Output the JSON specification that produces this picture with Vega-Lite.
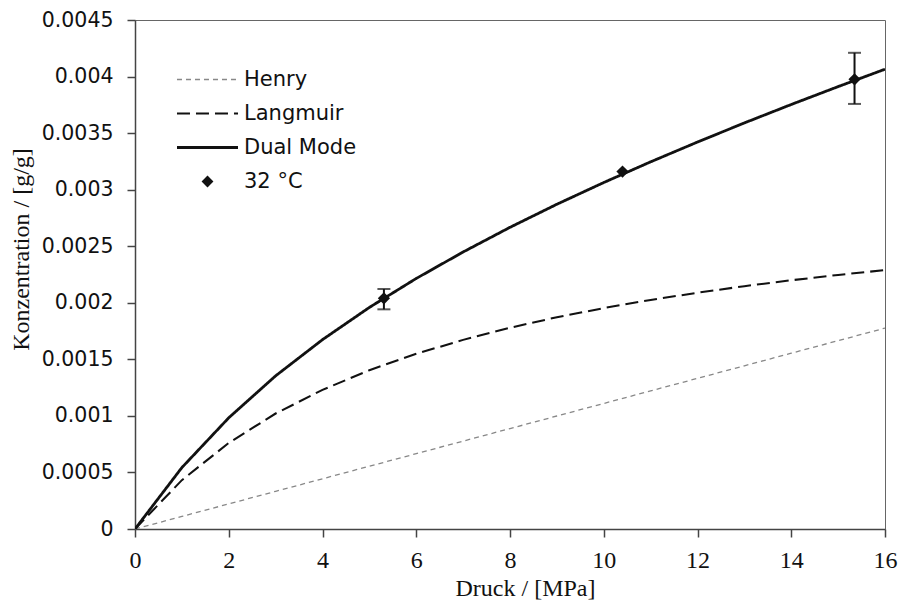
{
  "$schema": "https://vega.github.io/schema/vega-lite/v6.json",
  "width": 750,
  "height": 509,
  "autosize": {"type": "none"},
  "padding": {"left": 135, "top": 20, "right": 16, "bottom": 77},
  "background": "white",
  "config": {"view": {"stroke": "#666", "strokeWidth": 1}, "axis": {"grid": false}},
  "datasets": {
    "curves": [
      {"p": 0, "model": "Henry", "c": 0},
      {"p": 1, "model": "Henry", "c": 0.000111},
      {"p": 2, "model": "Henry", "c": 0.000222},
      {"p": 3, "model": "Henry", "c": 0.000333},
      {"p": 4, "model": "Henry", "c": 0.000444},
      {"p": 5, "model": "Henry", "c": 0.000555},
      {"p": 6, "model": "Henry", "c": 0.000666},
      {"p": 7, "model": "Henry", "c": 0.000777},
      {"p": 8, "model": "Henry", "c": 0.000888},
      {"p": 9, "model": "Henry", "c": 0.000999},
      {"p": 10, "model": "Henry", "c": 0.00111},
      {"p": 11, "model": "Henry", "c": 0.001221},
      {"p": 12, "model": "Henry", "c": 0.001332},
      {"p": 13, "model": "Henry", "c": 0.001443},
      {"p": 14, "model": "Henry", "c": 0.001554},
      {"p": 15, "model": "Henry", "c": 0.001665},
      {"p": 16, "model": "Henry", "c": 0.001776},
      {"p": 0, "model": "Langmuir", "c": 0},
      {"p": 1, "model": "Langmuir", "c": 0.000432},
      {"p": 2, "model": "Langmuir", "c": 0.000761},
      {"p": 3, "model": "Langmuir", "c": 0.001021},
      {"p": 4, "model": "Langmuir", "c": 0.00123},
      {"p": 5, "model": "Langmuir", "c": 0.001404},
      {"p": 6, "model": "Langmuir", "c": 0.001549},
      {"p": 7, "model": "Langmuir", "c": 0.001672},
      {"p": 8, "model": "Langmuir", "c": 0.001779},
      {"p": 9, "model": "Langmuir", "c": 0.001872},
      {"p": 10, "model": "Langmuir", "c": 0.001953},
      {"p": 11, "model": "Langmuir", "c": 0.002025},
      {"p": 12, "model": "Langmuir", "c": 0.002089},
      {"p": 13, "model": "Langmuir", "c": 0.002147},
      {"p": 14, "model": "Langmuir", "c": 0.002199},
      {"p": 15, "model": "Langmuir", "c": 0.002246},
      {"p": 16, "model": "Langmuir", "c": 0.002289},
      {"p": 0, "model": "Dual Mode", "c": 0},
      {"p": 1, "model": "Dual Mode", "c": 0.000543},
      {"p": 2, "model": "Dual Mode", "c": 0.000983},
      {"p": 3, "model": "Dual Mode", "c": 0.001354},
      {"p": 4, "model": "Dual Mode", "c": 0.001674},
      {"p": 5, "model": "Dual Mode", "c": 0.001959},
      {"p": 6, "model": "Dual Mode", "c": 0.002215},
      {"p": 7, "model": "Dual Mode", "c": 0.002449},
      {"p": 8, "model": "Dual Mode", "c": 0.002667},
      {"p": 9, "model": "Dual Mode", "c": 0.002871},
      {"p": 10, "model": "Dual Mode", "c": 0.003063},
      {"p": 11, "model": "Dual Mode", "c": 0.003246},
      {"p": 12, "model": "Dual Mode", "c": 0.003421},
      {"p": 13, "model": "Dual Mode", "c": 0.00359},
      {"p": 14, "model": "Dual Mode", "c": 0.003753},
      {"p": 15, "model": "Dual Mode", "c": 0.003911},
      {"p": 16, "model": "Dual Mode", "c": 0.004065}
    ],
    "points": [
      {"p": 5.31, "c": 0.00204, "series": "32 °C"},
      {"p": 10.4, "c": 0.00316, "series": "32 °C"},
      {"p": 15.35, "c": 0.003976, "series": "32 °C"}
    ],
    "errors": [
      {"p": 5.31, "lo": 0.001942, "hi": 0.002122},
      {"p": 15.35, "lo": 0.003758, "hi": 0.00421}
    ]
  },
  "layer": [
    {
      "data": {"name": "curves"},
      "mark": {"type": "line", "clip": true},
      "encoding": {
        "x": {
          "field": "p", "type": "quantitative",
          "scale": {"domain": [0, 16], "nice": false},
          "axis": {
            "values": [0, 2, 4, 6, 8, 10, 12, 14, 16],
            "title": "Druck / [MPa]",
            "titleFont": "Liberation Serif", "titleFontSize": 24, "titleFontWeight": "normal", "titleColor": "#111",
            "titleX": 390, "titleY": 66, "titleBaseline": "alphabetic", "titleAlign": "center",
            "labelFont": "Liberation Serif", "labelFontSize": 24, "labelColor": "#111", "labelPadding": 11,
            "labelFlush": false, "labelOverlap": false,
            "tickSize": 8, "tickColor": "#444", "tickWidth": 1.5,
            "domainColor": "#444", "domainWidth": 1.5
          }
        },
        "y": {
          "field": "c", "type": "quantitative",
          "scale": {"domain": [0, 0.0045], "nice": false},
          "axis": {
            "values": [0, 0.0005, 0.001, 0.0015, 0.002, 0.0025, 0.003, 0.0035, 0.004, 0.0045],
            "format": "~g",
            "title": "Konzentration / [g/g]",
            "titleFont": "Liberation Serif", "titleFontSize": 24, "titleFontWeight": "normal", "titleColor": "#111",
            "titleX": -107, "titleY": 229, "titleAngle": 270, "titleBaseline": "alphabetic", "titleAlign": "center",
            "labelFont": "DejaVu Sans", "labelFontSize": 20.5, "labelColor": "#111", "labelPadding": 14,
            "labelFlush": false, "labelOverlap": false,
            "tickSize": 8, "tickColor": "#444", "tickWidth": 1.5,
            "domainColor": "#444", "domainWidth": 1.5
          }
        },
        "color": {
          "field": "model", "type": "nominal",
          "scale": {"domain": ["Henry", "Langmuir", "Dual Mode"], "range": ["#888888", "#111111", "#111111"]},
          "legend": {"title": null, "orient": "none", "legendX": 62, "legendY": 49, "padding": 0,
            "symbolType": "M-5,0H5", "symbolSize": 149, "labelFont": "DejaVu Sans", "labelFontSize": 21,
            "labelColor": "#111", "labelOffset": 26, "rowPadding": 12}
        },
        "strokeDash": {
          "field": "model", "type": "nominal",
          "scale": {"domain": ["Henry", "Langmuir", "Dual Mode"], "range": [[5, 4], [13, 6], [1, 0]]},
          "legend": {"title": null, "orient": "none", "legendX": 62, "legendY": 49, "padding": 0,
            "symbolType": "M-5,0H5", "symbolSize": 149, "labelFont": "DejaVu Sans", "labelFontSize": 21,
            "labelColor": "#111", "labelOffset": 26, "rowPadding": 12}
        },
        "strokeWidth": {
          "field": "model", "type": "nominal",
          "scale": {"domain": ["Henry", "Langmuir", "Dual Mode"], "range": [1.3, 2.8, 2.8]},
          "legend": {"title": null, "orient": "none", "legendX": 62, "legendY": 49, "padding": 0,
            "symbolType": "M-5,0H5", "symbolSize": 149, "labelFont": "DejaVu Sans", "labelFontSize": 21,
            "labelColor": "#111", "labelOffset": 26, "rowPadding": 12}
        }
      }
    },
    {
      "data": {"name": "errors"},
      "mark": {"type": "rule", "color": "#111", "strokeWidth": 2},
      "encoding": {
        "x": {"field": "p", "type": "quantitative"},
        "y": {"field": "lo", "type": "quantitative"},
        "y2": {"field": "hi"}
      }
    },
    {
      "data": {"name": "errors"},
      "mark": {"type": "tick", "orient": "horizontal", "size": 13, "thickness": 2, "color": "#111"},
      "encoding": {
        "x": {"field": "p", "type": "quantitative"},
        "y": {"field": "lo", "type": "quantitative"}
      }
    },
    {
      "data": {"name": "errors"},
      "mark": {"type": "tick", "orient": "horizontal", "size": 13, "thickness": 2, "color": "#111"},
      "encoding": {
        "x": {"field": "p", "type": "quantitative"},
        "y": {"field": "hi", "type": "quantitative"}
      }
    },
    {
      "data": {"name": "points"},
      "mark": {"type": "point", "filled": true, "color": "#111", "size": 150, "opacity": 1},
      "encoding": {
        "x": {"field": "p", "type": "quantitative"},
        "y": {"field": "c", "type": "quantitative"},
        "shape": {
          "field": "series", "type": "nominal",
          "scale": {"domain": ["32 °C"], "range": ["diamond"]},
          "legend": {"title": null, "orient": "none", "legendX": 62, "legendY": 151, "padding": 0,
            "symbolFillColor": "#111", "symbolStrokeColor": "#111", "symbolSize": 140, "symbolOpacity": 1,
            "labelFont": "DejaVu Sans", "labelFontSize": 21, "labelColor": "#111", "labelOffset": 26}
        }
      }
    }
  ]
}
